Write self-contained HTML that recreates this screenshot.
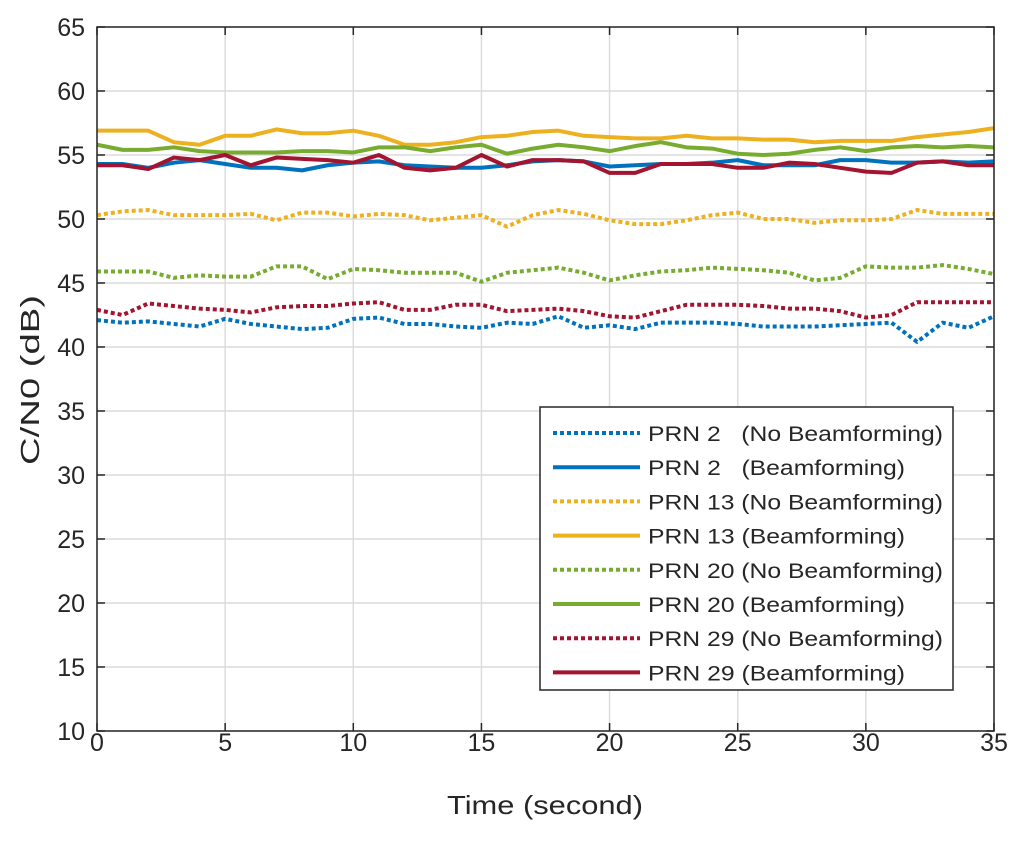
<!DOCTYPE html>
<html><head><meta charset="utf-8"><style>
body{margin:0;background:#fff;}
svg text{font-family:"Liberation Sans",sans-serif;fill:#262626;white-space:pre;}
</style></head><body>
<svg id="chart" width="1024" height="837" viewBox="0 0 1024 837">
<g id="grid"></g><g id="series"></g><g id="axes"></g><g id="legend"></g>
<text x="0" y="0" font-size="26" text-anchor="middle" textLength="170" lengthAdjust="spacingAndGlyphs" transform="translate(39 380) rotate(-90)">C/N0 (dB)</text>
<text x="545" y="814" font-size="26" text-anchor="middle" textLength="196" lengthAdjust="spacingAndGlyphs">Time (second)</text>
</svg>
<script>
const times=[...Array(36).keys()];
const xTicks=[0,5,10,15,20,25,30,35];
const yTicks=[10,15,20,25,30,35,40,45,50,55,60,65];
const prn2No=[42.1,41.9,42.0,41.8,41.6,42.2,41.8,41.6,41.4,41.5,42.2,42.3,41.8,41.8,41.6,41.5,41.9,41.8,42.4,41.5,41.7,41.4,41.9,41.9,41.9,41.8,41.6,41.6,41.6,41.7,41.8,41.9,40.4,41.9,41.5,42.4];
const prn2Bf=[54.3,54.3,54.0,54.4,54.6,54.3,54.0,54.0,53.8,54.2,54.4,54.5,54.2,54.1,54.0,54.0,54.2,54.5,54.6,54.5,54.1,54.2,54.3,54.3,54.4,54.6,54.2,54.2,54.2,54.6,54.6,54.4,54.4,54.5,54.4,54.5];
const prn13No=[50.3,50.6,50.7,50.3,50.3,50.3,50.4,49.9,50.5,50.5,50.2,50.4,50.3,49.9,50.1,50.3,49.4,50.3,50.7,50.4,49.9,49.6,49.6,49.9,50.3,50.5,50.0,50.0,49.7,49.9,49.9,50.0,50.7,50.4,50.4,50.4];
const prn13Bf=[56.9,56.9,56.9,56.0,55.8,56.5,56.5,57.0,56.7,56.7,56.9,56.5,55.8,55.8,56.0,56.4,56.5,56.8,56.9,56.5,56.4,56.3,56.3,56.5,56.3,56.3,56.2,56.2,56.0,56.1,56.1,56.1,56.4,56.6,56.8,57.1];
const prn20No=[45.9,45.9,45.9,45.4,45.6,45.5,45.5,46.3,46.3,45.3,46.1,46.0,45.8,45.8,45.8,45.1,45.8,46.0,46.2,45.8,45.2,45.6,45.9,46.0,46.2,46.1,46.0,45.8,45.2,45.4,46.3,46.2,46.2,46.4,46.1,45.7];
const prn20Bf=[55.8,55.4,55.4,55.6,55.3,55.2,55.2,55.2,55.3,55.3,55.2,55.6,55.6,55.3,55.6,55.8,55.1,55.5,55.8,55.6,55.3,55.7,56.0,55.6,55.5,55.1,55.0,55.1,55.4,55.6,55.3,55.6,55.7,55.6,55.7,55.6];
const prn29No=[42.9,42.5,43.4,43.2,43.0,42.9,42.7,43.1,43.2,43.2,43.4,43.5,42.9,42.9,43.3,43.3,42.8,42.9,43.0,42.8,42.4,42.3,42.8,43.3,43.3,43.3,43.2,43.0,43.0,42.8,42.3,42.5,43.5,43.5,43.5,43.5];
const prn29Bf=[54.2,54.2,53.9,54.8,54.6,55.0,54.2,54.8,54.7,54.6,54.4,55.0,54.0,53.8,54.0,55.0,54.1,54.6,54.6,54.5,53.6,53.6,54.3,54.3,54.3,54.0,54.0,54.4,54.3,54.0,53.7,53.6,54.4,54.5,54.2,54.2];
const legendLabels=["PRN 2   (No Beamforming)","PRN 2   (Beamforming)","PRN 13 (No Beamforming)","PRN 13 (Beamforming)","PRN 20 (No Beamforming)","PRN 20 (Beamforming)","PRN 29 (No Beamforming)","PRN 29 (Beamforming)"];

const L=97,R=994,T=27,B=731;
const xs=t=>L+(t-0)/35*(R-L);
const ys=v=>B-(v-10)/55*(B-T);
const NS="http://www.w3.org/2000/svg";
function mk(tag,attrs,parent){const e=document.createElementNS(NS,tag);for(const k in attrs)e.setAttribute(k,attrs[k]);parent.appendChild(e);return e;}
const grid=document.getElementById('grid'),axes=document.getElementById('axes'),ser=document.getElementById('series'),leg=document.getElementById('legend');
mk('rect',{x:L,y:T,width:R-L,height:B-T,fill:'#fff'},grid);
xTicks.forEach(t=>{
 const g=mk('line',{x1:xs(t),x2:xs(t),y1:T,y2:B,stroke:'#dcdcdc','stroke-width':1.5},grid);
 
 
 mk('line',{x1:xs(t),x2:xs(t),y1:B,y2:B-8,stroke:'#262626','stroke-width':1.5},axes);
 mk('line',{x1:xs(t),x2:xs(t),y1:T,y2:T+8,stroke:'#262626','stroke-width':1.5},axes);
 const tx=mk('text',{x:xs(t),y:B+20,'font-size':25,'text-anchor':'middle'},axes);tx.textContent=t;
 
 
});
yTicks.forEach(v=>{
 const g=mk('line',{x1:L,x2:R,y1:ys(v),y2:ys(v),stroke:'#dcdcdc','stroke-width':1.5},grid);
 
 
 mk('line',{x1:L,x2:L+8,y1:ys(v),y2:ys(v),stroke:'#262626','stroke-width':1.5},axes);
 mk('line',{x1:R,x2:R-8,y1:ys(v),y2:ys(v),stroke:'#262626','stroke-width':1.5},axes);
 const tx=mk('text',{x:L-12,y:ys(v)+9,'font-size':25,'text-anchor':'end'},axes);tx.textContent=v;
 
 
});
mk('rect',{x:L,y:T,width:R-L,height:B-T,fill:'none',stroke:'#262626','stroke-width':1.5},axes);
const series=[[prn2No,'#0072BD',true],[prn2Bf,'#0072BD',false],[prn13No,'#EDB120',true],[prn13Bf,'#EDB120',false],[prn20No,'#77AC30',true],[prn20Bf,'#77AC30',false],[prn29No,'#A2142F',true],[prn29Bf,'#A2142F',false]];
const names=['prn2-no-bf','prn2-bf','prn13-no-bf','prn13-bf','prn20-no-bf','prn20-bf','prn29-no-bf','prn29-bf'];
series.forEach((s,i)=>{
 const pts=s[0].map((v,j)=>xs(times[j])+','+ys(v)).join(' ');
 const a={points:pts,fill:'none',stroke:s[1],'stroke-width':4,'stroke-linejoin':'round'};
 if(s[2])a['stroke-dasharray']='4 3';
 const p=mk('polyline',a,ser);
 
 
});
const box=mk('rect',{x:540,y:407,width:413,height:283,fill:'#fff',stroke:'#262626','stroke-width':1.5},leg);


legendLabels.forEach((lab,i)=>{
 const y=433+i*34.2;
 const a={x1:553,x2:640,y1:y,y2:y,stroke:series[i][1],'stroke-width':4};
 if(series[i][2])a['stroke-dasharray']='4 3';
 mk('line',a,leg);
 const len=i%2===0?295:257;
 const t=mk('text',{x:648,y:y+8,'font-size':21,textLength:len,lengthAdjust:'spacingAndGlyphs'},leg);t.textContent=lab;
 
 
});
</script>
</body></html>
